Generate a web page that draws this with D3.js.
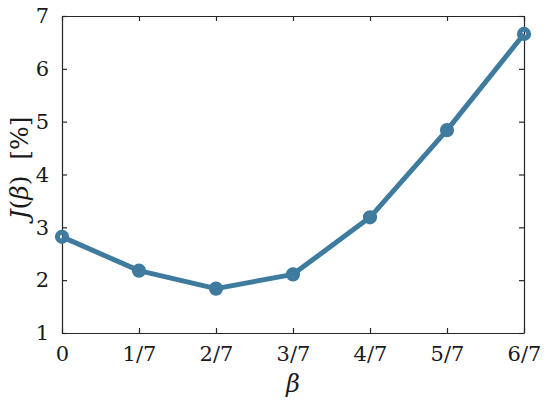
<!DOCTYPE html>
<html>
<head>
  <script src="https://d3js.org/d3.v7.min.js"></script>
  <style>
    body { margin: 0; background: #fff; }
    .tick text { font-family: "DejaVu Serif", serif; font-size: 21px; fill: #1a1a1a; }
  </style>
</head>
<body>
<div id="chart"></div>
<script>
// data
var betaVals = [0, 1/7, 2/7, 3/7, 4/7, 5/7, 6/7];
var betaLabels = ["0", "1/7", "2/7", "3/7", "4/7", "5/7", "6/7"];
var jVals = [2.82, 2.18, 1.84, 2.11, 3.19, 4.84, 6.66];
var yTicks = [1, 2, 3, 4, 5, 6, 7];

var W = 550, H = 405;
var margin = {top: 16, right: 26, bottom: 72, left: 62},
    width = W - margin.left - margin.right,
    height = H - margin.top - margin.bottom;

var svg = d3.select("#chart").append("svg")
    .attr("width", W)
    .attr("height", H);

var g = svg.append("g")
    .attr("transform", "translate(" + margin.left + "," + margin.top + ")");

var x = d3.scaleLinear().domain([0, 6/7]).range([0, width]);
var y = d3.scaleLinear().domain([1, 7]).range([height, 0]);

// axes: ticks pointing inward, box on all sides
g.append("g")
    .attr("transform", "translate(0," + height + ")")
    .call(d3.axisBottom(x).tickValues(betaVals)
      .tickFormat(function (d, i) { return betaLabels[i]; })
      .tickSizeInner(-5).tickSizeOuter(0).tickPadding(11))
    .call(function (a) { a.selectAll("text").attr("dy", "0.8em"); });

g.append("g")
    .call(d3.axisTop(x).tickValues(betaVals).tickFormat("")
      .tickSizeInner(-5).tickSizeOuter(0));

g.append("g")
    .call(d3.axisLeft(y).tickValues(yTicks).tickFormat(d3.format("d"))
      .tickSizeInner(-5).tickSizeOuter(0).tickPadding(13));

g.append("g")
    .attr("transform", "translate(" + width + ",0)")
    .call(d3.axisRight(y).tickValues(yTicks).tickFormat("")
      .tickSizeInner(-5).tickSizeOuter(0));

g.selectAll(".domain, .tick line").attr("stroke", "#262626").attr("stroke-width", 1.2);

// line
var col = "#3f7b9f";
g.append("path")
    .datum(betaVals.map(function (b, i) { return [b, jVals[i]]; }))
    .attr("fill", "none")
    .attr("stroke", col)
    .attr("stroke-width", 5)
    .attr("stroke-linejoin", "round")
    .attr("d", d3.line()
      .x(function (d) { return x(d[0]); })
      .y(function (d) { return y(d[1]); }));

g.selectAll("circle.pt")
    .data(jVals)
    .enter().append("circle")
    .attr("class", "pt")
    .attr("cx", function (d, i) { return x(betaVals[i]); })
    .attr("cy", function (d) { return y(d); })
    .attr("r", 4.6)
    .attr("fill", "none")
    .attr("stroke", col)
    .attr("stroke-width", 5);

// axis titles
svg.append("text")
    .attr("x", margin.left + width / 2)
    .attr("y", 392)
    .attr("text-anchor", "middle")
    .style("font-family", "'DejaVu Serif', serif")
    .style("font-style", "italic")
    .style("font-size", "24px")
    .style("fill", "#1a1a1a")
    .text("β");

var yl = svg.append("text")
    .attr("transform", "translate(28,168) rotate(-90)")
    .attr("text-anchor", "middle")
    .style("font-family", "'DejaVu Serif', serif")
    .style("font-size", "25px")
    .style("fill", "#1a1a1a");
yl.append("tspan").style("font-style", "italic").text("J");
yl.append("tspan").text("(");
yl.append("tspan").style("font-style", "italic").text("β");
yl.append("tspan").text(")\u00a0\u00a0[%]");
</script>
</body>
</html>
